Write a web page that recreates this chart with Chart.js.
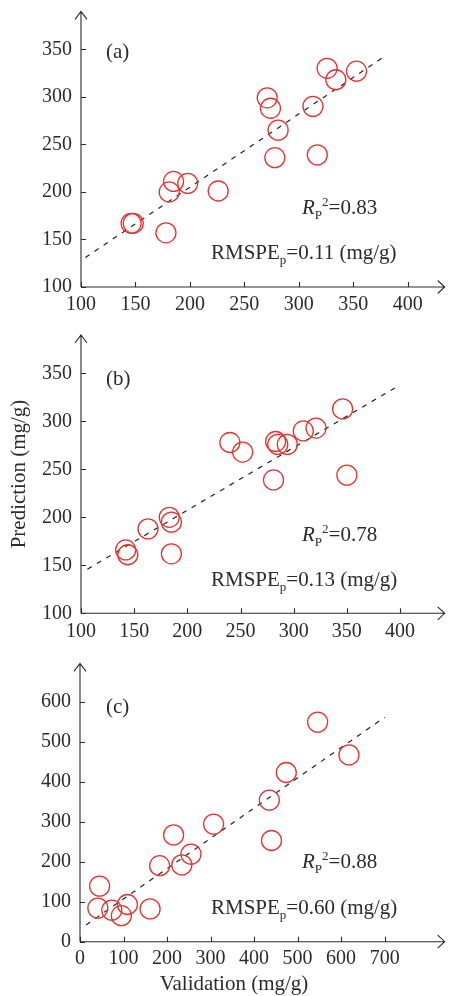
<!DOCTYPE html>
<html>
<head>
<meta charset="utf-8">
<script src="https://cdn.jsdelivr.net/npm/chart.js@4.4.1/dist/chart.umd.min.js"></script>
<style>
  html, body { margin: 0; padding: 0; background: #fff; }
  body { width: 456px; height: 996px; position: relative; overflow: hidden; }
  canvas { position: absolute; left: 0; }
</style>
</head>
<body>
<canvas id="chartA" width="456" height="320" style="top:0px"></canvas>
<canvas id="chartB" width="456" height="320" style="top:320px"></canvas>
<canvas id="chartC" width="456" height="356" style="top:640px"></canvas>
<script>
// panel (a)
const valA = [326, 353, 334, 271, 274, 313, 281, 278, 317, 185, 198, 181, 226, 146, 148, 178];
const predA = [330, 327, 318, 299, 288, 290, 265, 236, 239, 211, 209, 200, 201, 167, 167, 157];
const fitXA = [104, 378];
const fitYA = [131, 342];
const xTicksA = [100, 150, 200, 250, 300, 350, 400];
const yTicksA = [100, 150, 200, 250, 300, 350];

// panel (b)
const valB = [346, 321, 309, 283, 285, 294, 240, 252, 281, 350, 183, 185, 163, 142, 144, 185];
const predB = [313, 293, 290, 279, 276, 276, 278, 268, 239, 244, 200, 195, 188, 166, 161, 162];
const fitXB = [106, 400];
const fitYB = [146, 338];
const xTicksB = [100, 150, 200, 250, 300, 350, 400];
const yTicksB = [100, 150, 200, 250, 300, 350];

// panel (c)
const valC = [546, 618, 474, 435, 440, 307, 215, 255, 234, 183, 45, 41, 73, 95, 109, 161];
const predC = [549, 467, 423, 354, 253, 294, 267, 219, 192, 190, 139, 84, 79, 65, 93, 82];
const fitXC = [14, 700];
const fitYC = [42, 561];
const xTicksC = [0, 100, 200, 300, 400, 500, 600, 700];
const yTicksC = [0, 100, 200, 300, 400, 500, 600];

const labels = ['(a)', '(b)', '(c)'];
const r2Text = ['=0.83', '=0.78', '=0.88'];
const rmspeText = ['=0.11 (mg/g)', '=0.13 (mg/g)', '=0.60 (mg/g)'];

const FONT = '"Liberation Serif", "Times New Roman", serif';
const INK = '#2b2b2b';
const RED = '#e8312f';

// texte composé (indices / exposants)
function drawRich(ctx, x, y, parts) {
    let cx = x;
    parts.forEach(p => {
        ctx.font = (p.italic ? 'italic ' : '') + p.size + 'px ' + FONT;
        ctx.fillText(p.t, cx, y + (p.dy || 0));
        cx += ctx.measureText(p.t).width + (p.gap || 0);
    });
}

const axesPlugin = {
    id: 'axesArrows',
    beforeDatasetsDraw(chart, args, o) {
        const { ctx, chartArea: a, scales } = chart;
        ctx.save();
        ctx.strokeStyle = INK;
        ctx.lineWidth = 1.1;
        ctx.beginPath();
        ctx.moveTo(a.left, a.bottom); ctx.lineTo(a.left, a.top);
        ctx.moveTo(a.left, a.bottom); ctx.lineTo(a.right, a.bottom);
        // flèches
        ctx.moveTo(a.left - 6, a.top + 8); ctx.lineTo(a.left, a.top); ctx.lineTo(a.left + 6, a.top + 8);
        ctx.moveTo(a.right - 7, a.bottom - 6.5); ctx.lineTo(a.right, a.bottom); ctx.lineTo(a.right - 7, a.bottom + 6.5);
        // graduations vers l'intérieur
        scales.x.ticks.forEach(t => {
            const px = Math.round(scales.x.getPixelForValue(t.value)) + 0.5;
            ctx.moveTo(px, a.bottom); ctx.lineTo(px, a.bottom - 5);
        });
        scales.y.ticks.forEach(t => {
            const py = Math.round(scales.y.getPixelForValue(t.value)) + 0.5;
            ctx.moveTo(a.left, py); ctx.lineTo(a.left + 5, py);
        });
        ctx.stroke();
        ctx.restore();
    },
    afterDraw(chart, args, o) {
        const ctx = chart.ctx;
        ctx.save();
        ctx.fillStyle = INK;
        ctx.textBaseline = 'alphabetic';
        ctx.textAlign = 'left';
        drawRich(ctx, o.tagX, o.tagY, [{ t: o.tag, size: 21 }]);
        drawRich(ctx, o.r2X, o.r2Y, [
            { t: 'R', size: 21, italic: true },
            { t: 'P', size: 13, dy: 5 },
            { t: '2', size: 13, dy: -8 },
            { t: o.r2, size: 21 }
        ]);
        drawRich(ctx, o.rmX, o.rmY, [
            { t: 'RMSPE', size: 21 },
            { t: 'p', size: 13, dy: 5 },
            { t: o.rm, size: 21 }
        ]);
        if (o.yTitle) {
            ctx.save();
            ctx.translate(o.yTitleX, o.yTitleY);
            ctx.rotate(-Math.PI / 2);
            ctx.textAlign = 'center';
            ctx.font = '21px ' + FONT;
            ctx.fillText(o.yTitle, 0, 0);
            ctx.restore();
        }
        if (o.xTitle) {
            ctx.textAlign = 'center';
            ctx.font = '21px ' + FONT;
            ctx.fillText(o.xTitle, o.xTitleX, o.xTitleY);
        }
        ctx.restore();
    }
};

function makeChart(id, val, pred, fitX, fitY, xTicks, yTicks, lim, box, deco) {
    const scatter = val.map((v, i) => ({ x: v, y: pred[i] }));
    const fit = fitX.map((v, i) => ({ x: v, y: fitY[i] }));
    const tickFont = { family: FONT, size: 20 };
    return new Chart(document.getElementById(id), {
        type: 'scatter',
        data: {
            datasets: [{
                data: scatter,
                pointStyle: 'circle',
                pointRadius: 10,
                pointHoverRadius: 10,
                borderColor: RED,
                backgroundColor: 'rgba(0,0,0,0)',
                borderWidth: 1.3,
                clip: false
            }, {
                type: 'line',
                data: fit,
                borderColor: '#222',
                borderWidth: 1.2,
                borderDash: [5, 6],
                pointRadius: 0,
                fill: false,
                clip: false
            }]
        },
        options: {
            responsive: false,
            animation: false,
            devicePixelRatio: 1,
            layout: { padding: { top: box.top, right: box.right, left: 0, bottom: 0 } },
            plugins: {
                legend: { display: false },
                tooltip: { enabled: false },
                axesArrows: deco
            },
            scales: {
                x: {
                    type: 'linear', min: lim[0], max: lim[1],
                    grid: { display: false, drawTicks: false },
                    border: { display: false },
                    ticks: { font: tickFont, color: INK, padding: box.xPad, autoSkip: false, maxRotation: 0 },
                    afterBuildTicks: s => { s.ticks = xTicks.map(v => ({ value: v })); },
                    afterFit: s => { s.height = box.xH; s.paddingLeft = 0; s.paddingRight = 0; s.paddingTop = 0; s.paddingBottom = 0; }
                },
                y: {
                    type: 'linear', min: lim[2], max: lim[3],
                    grid: { display: false, drawTicks: false },
                    border: { display: false },
                    ticks: { font: tickFont, color: INK, padding: 9, autoSkip: false },
                    afterBuildTicks: s => { s.ticks = yTicks.map(v => ({ value: v })); },
                    afterFit: s => { s.width = box.yW; s.paddingLeft = 0; s.paddingRight = 0; s.paddingTop = 0; s.paddingBottom = 0; }
                }
            }
        },
        plugins: [axesPlugin]
    });
}

makeChart('chartA', valA, predA, fitXA, fitYA, xTicksA, yTicksA,
    [100, 434, 100, 390],
    { top: 8, right: 1, xH: 33, yW: 81, xPad: 6 },
    { tag: labels[0], tagX: 106, tagY: 58, r2: r2Text[0], r2X: 302, r2Y: 214, rm: rmspeText[0], rmX: 211, rmY: 259 });

makeChart('chartB', valB, predB, fitXB, fitYB, xTicksB, yTicksB,
    [100, 442, 100, 390],
    { top: 15, right: 7, xH: 26.7, yW: 81, xPad: 6 },
    { tag: labels[1], tagX: 106, tagY: 65, r2: r2Text[1], r2X: 302, r2Y: 221, rm: rmspeText[1], rmX: 211, rmY: 266,
      yTitle: 'Prediction (mg/g)', yTitleX: 25, yTitleY: 154 });

makeChart('chartC', valC, predC, fitXC, fitYC, xTicksC, yTicksC,
    [0, 838, 0, 696],
    { top: 23.3, right: 7, xH: 54.3, yW: 80, xPad: 5 },
    { tag: labels[2], tagX: 106, tagY: 73, r2: r2Text[2], r2X: 302, r2Y: 228, rm: rmspeText[2], rmX: 211, rmY: 274,
      xTitle: 'Validation (mg/g)', xTitleX: 234, xTitleY: 350 });
</script>
</body>
</html>
